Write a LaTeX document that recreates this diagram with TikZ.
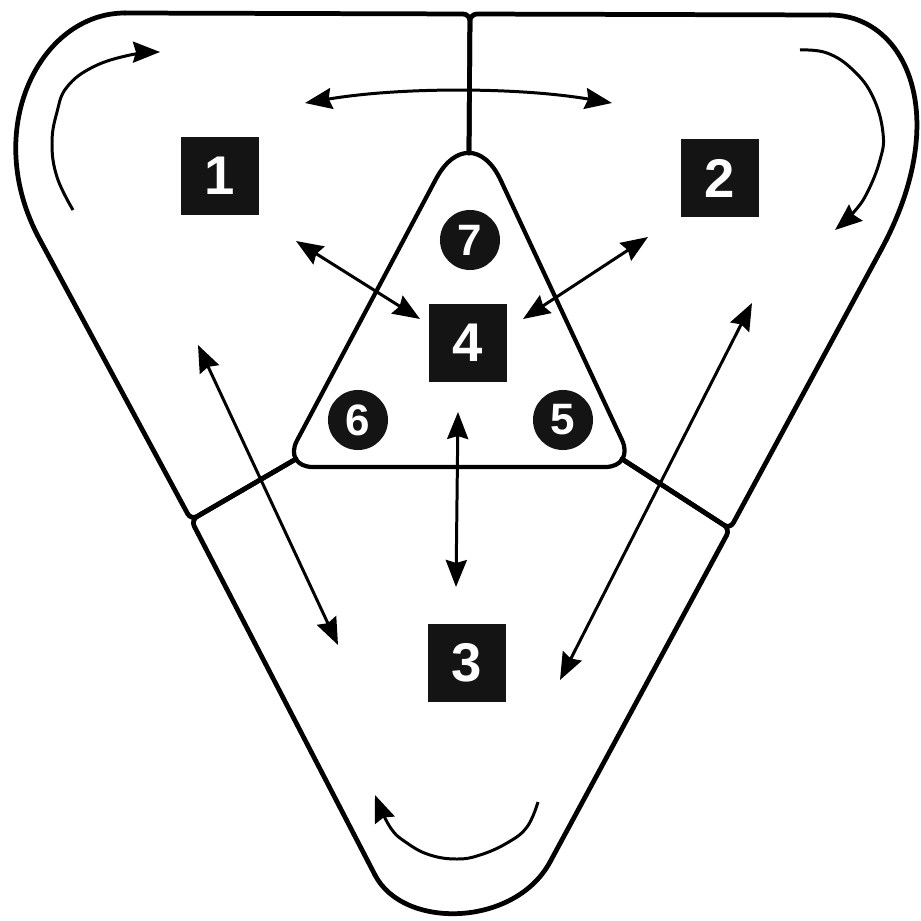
\documentclass[tikz,border=0pt]{standalone}
\usepackage{fontspec}
\setmainfont{Liberation Sans}
\usetikzlibrary{arrows.meta}
\begin{document}
\begin{tikzpicture}[x=0.01cm,y=-0.01cm,
  border/.style={line width=1.35pt, line join=round, line cap=round},
  tri/.style={line width=1.2pt, line join=round},
  arr/.style={line width=0.85pt, -{Stealth[length=0.27cm,width=0.21cm,inset=0.03cm]}},
  darr/.style={line width=0.85pt, {Stealth[length=0.27cm,width=0.21cm,inset=0.03cm]}-{Stealth[length=0.27cm,width=0.21cm,inset=0.03cm]}},
  sq/.style={fill=black!92, minimum width=0.77cm, minimum height=0.78cm, inner sep=0pt, text=white, font=\fontsize{15.5}{16}\selectfont\bfseries},
  ci/.style={circle, fill=black!92, minimum size=0.6cm, inner sep=0pt, text=white, font=\fontsize{12.5}{13}\selectfont\bfseries}]
\useasboundingbox (0,0) rectangle (921,921);
\fill[white] (0,0) rectangle (921,921);

% junction coordinates
\coordinate (top) at (470,14);
\coordinate (apex) at (469,153);
\coordinate (tl) at (296,459);
\coordinate (tr) at (622,459);
\coordinate (j1) at (191,520);
\coordinate (j2) at (730,529);

% region 1
\draw[border, rounded corners=0.07cm] (tl) -- (j1) -- (40,240);
\draw[border] (40,240) .. controls (-20,130) and (40,13) .. (125,13);
\draw[border, rounded corners=0.07cm] (125,13) -- (top) -- (apex);
% region 2
\draw[border, rounded corners=0.07cm] (apex) -- (top) -- (830,15);
\draw[border] (830,15) .. controls (905,15) and (954,115) .. (881,250);
\draw[border, rounded corners=0.07cm] (881,250) -- (j2) -- (tr);
% region 3
\draw[border, rounded corners=0.07cm] (tl) -- (j1) -- (375,875);
\draw[border] (375,875) .. controls (403.5,930) and (514.8,927) .. (550,862);
\draw[border, rounded corners=0.07cm] (550,862) -- (j2) -- (tr);

% central triangle
\draw[tri] (313,467) -- (605,467) .. controls (621.5,467) and (629,455) .. (622,440)
  -- (500.6,180) .. controls (483.8,144.2) and (454.7,143.8) .. (436,179)
  -- (297,440.5) .. controls (289.3,455) and (296.5,467) .. (313,467) -- cycle;

% numbered nodes
\node[sq] (b1) at (220,176) {1};
\node[sq] (b2) at (720,178) {2};
\node[sq] (b4) at (468,343) {4};
\node[sq] (b3) at (467,663) {3};
\node[ci] (c7) at (470,240) {7};
\node[ci] (c6) at (358,420) {6};
\node[ci] (c5) at (563,420) {5};

% arrow end points
\coordinate (t1) at (305,103);
\coordinate (t2) at (612,103);
\coordinate (p1a) at (296,241);
\coordinate (p4a) at (420,319);
\coordinate (p2a) at (648,237);
\coordinate (p4b) at (523,319);
\coordinate (p4c) at (458,412);
\coordinate (p3c) at (456,587);
\coordinate (p1b) at (198,345);
\coordinate (p3a) at (338,645);
\coordinate (p2b) at (752,303);
\coordinate (p3b) at (560,680);

% arrows
\draw[darr] (t1) .. controls (400,87) and (517,87) .. (t2);
\draw[darr] (p1a) -- (p4a);
\draw[darr] (p2a) -- (p4b);
\draw[darr] (p4c) -- (p3c);
\draw[darr] (p1b) -- (p3a);
\draw[darr] (p2b) -- (p3b);

% circulating arrows
\draw[arr] plot[smooth, tension=0.7] coordinates {(73,210) (57,177) (52,143) (57,112) (67,87) (93,67) (130,55) (160,52)};
\draw[arr] plot[smooth, tension=0.7] coordinates {(800,50) (827,53) (853,70) (873,97) (883,133) (880,160) (867,193) (853,213) (835,230)};
\draw[arr] plot[smooth, tension=0.7] coordinates {(538,802) (527,827) (507,843) (480,855) (457,859) (430,855) (407,843) (390,827) (375,795)};
\end{tikzpicture}
\end{document}
